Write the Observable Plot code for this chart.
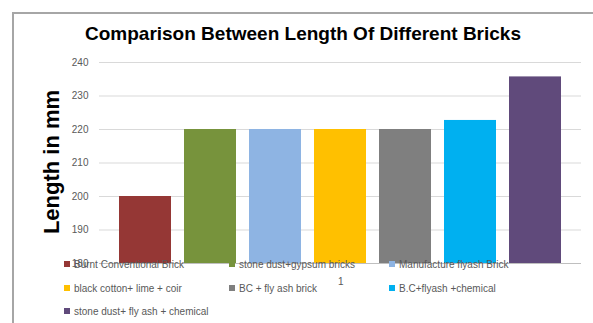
<!DOCTYPE html>
<html>
<head>
<meta charset="utf-8">
<script src="https://cdn.jsdelivr.net/npm/d3@7"></script>
<script src="https://cdn.jsdelivr.net/npm/@observablehq/plot@0.6"></script>
<style>
  html, body { margin: 0; padding: 0; background: #fff; }
  #wrap { position: relative; width: 593px; height: 323px; overflow: hidden; font-family: "Liberation Sans", Arial, sans-serif; }
  #wrap svg { position: absolute; left: 0; top: 0; }
  .frame { position: absolute; left: 12px; top: 12px; width: 700px; height: 400px; border-left: 2px solid #a6a6a6; border-top: 2px solid #a6a6a6; }
  .title { position: absolute; left: 0; width: 606px; top: 23px; text-align: center; font-weight: bold; font-size: 19px; color: #000; }
  .ylab { position: absolute; left: 52px; top: 162px; transform: translate(-50%, -50%) rotate(-90deg); font-weight: bold; font-size: 22px; color: #000; white-space: nowrap; }
  .leg { position: absolute; font-size: 10px; color: #595959; white-space: nowrap; line-height: 12px; }
  .leg i { display: inline-block; width: 6px; height: 6px; margin-right: 4px; vertical-align: 1px; }
  .cat { position: absolute; font-size: 10px; color: #595959; }
</style>
</head>
<body>
<div id="wrap"></div>
<script>
const categories = ["Burnt Conventional Brick", "stone dust+gypsum bricks", "Manufacture flyash Brick",
  "black cotton+ lime + coir", "BC + fly ash brick", "B.C+flyash +chemical", "stone dust+ fly ash + chemical"];
const values = [200, 220, 220, 220, 220, 222.7, 235.7];
const colors = ["#953735", "#77933C", "#8EB4E3", "#FFC000", "#7F7F7F", "#00B0F0", "#604A7B"];
const yTicks = [180, 190, 200, 210, 220, 230, 240];
const categoryLabel = "1";
const titleText = "Comparison Between Length Of Different Bricks";
const yLabel = "Length in mm";

const data = categories.map((c, i) => ({cat: c, value: values[i]}));

const chart = Plot.plot({
  width: 593,
  height: 323,
  marginTop: 62,
  marginBottom: 60,
  marginLeft: 99,
  marginRight: 12,
  style: {background: "transparent", fontFamily: "Liberation Sans, Arial, sans-serif"},
  x: {domain: categories, paddingInner: 0.2, paddingOuter: 0.28, axis: null},
  y: {domain: [180, 240], ticks: yTicks},
  color: {domain: categories, range: colors},
  marks: [
    Plot.gridY(yTicks, {stroke: "#d9d9d9", strokeOpacity: 1, strokeWidth: 1}),
    Plot.barY(data, {x: "cat", y1: 180, y2: "value", fill: "cat"}),
    Plot.ruleY([180], {stroke: "#bfbfbf", strokeWidth: 1}),
    Plot.axisY(yTicks, {tickSize: 0, tickPadding: 11, fontSize: 10, fill: "#595959", label: null, tickFormat: d => String(d)})
  ]
});

const wrap = document.getElementById("wrap");
wrap.appendChild(chart);

const frame = document.createElement("div"); frame.className = "frame"; wrap.appendChild(frame);
const t = document.createElement("div"); t.className = "title"; t.textContent = titleText; wrap.appendChild(t);
const yl = document.createElement("div"); yl.className = "ylab"; yl.textContent = yLabel; wrap.appendChild(yl);
const cl = document.createElement("div"); cl.className = "cat"; cl.textContent = categoryLabel;
cl.style.left = "338px"; cl.style.top = "276px"; wrap.appendChild(cl);

const colX = [64, 229, 389];
const rowY = [259, 283, 306];
categories.forEach((c, i) => {
  const d = document.createElement("div");
  d.className = "leg";
  d.style.left = colX[i % 3] + "px";
  d.style.top = rowY[Math.floor(i / 3)] + "px";
  const m = document.createElement("i"); m.style.background = colors[i];
  d.appendChild(m);
  d.appendChild(document.createTextNode(c));
  wrap.appendChild(d);
});
</script>
</body>
</html>
